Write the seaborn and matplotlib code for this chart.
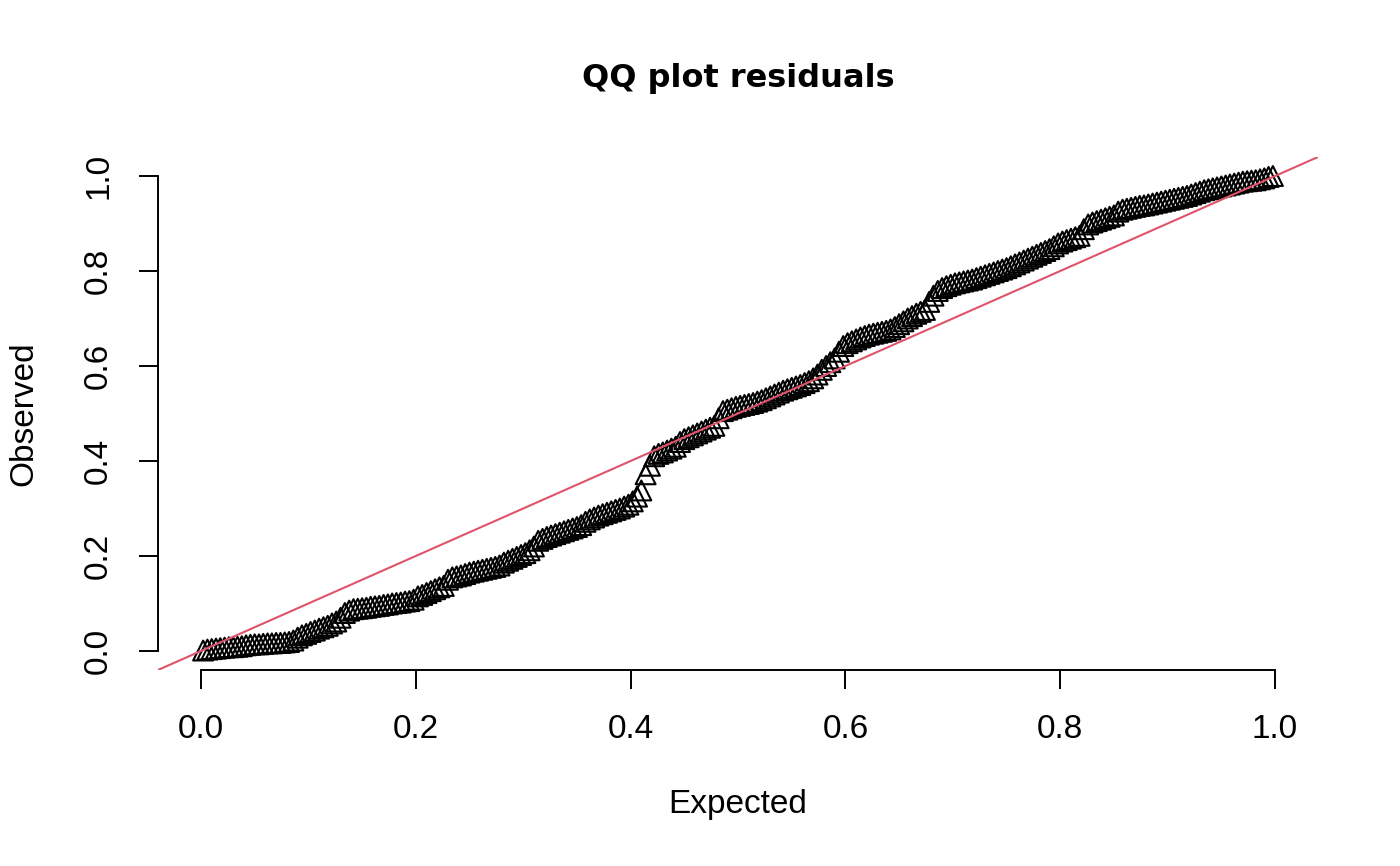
import numpy as np
import pandas as pd
import matplotlib
matplotlib.use('Agg')
import matplotlib.pyplot as plt
import seaborn as sns

# Observed quantiles of the scaled residuals (sorted)
observed = [
    0.001, 0.003, 0.004, 0.005, 0.006, 0.007, 0.008, 0.008, 0.009, 0.010,
    0.012, 0.013, 0.014, 0.014, 0.015, 0.016, 0.016, 0.017, 0.017, 0.018,
    0.019, 0.022, 0.028, 0.033, 0.036, 0.040, 0.043, 0.047, 0.050, 0.053,
    0.058, 0.062, 0.070, 0.080, 0.085, 0.088, 0.089, 0.090, 0.091, 0.093,
    0.094, 0.095, 0.097, 0.098, 0.100, 0.101, 0.102, 0.104, 0.105, 0.108,
    0.115, 0.118, 0.122, 0.126, 0.130, 0.134, 0.137, 0.150, 0.155, 0.157,
    0.159, 0.162, 0.165, 0.167, 0.169, 0.171, 0.173, 0.175, 0.177, 0.180,
    0.186, 0.190, 0.194, 0.198, 0.202, 0.206, 0.212, 0.220, 0.232, 0.236,
    0.240, 0.243, 0.246, 0.249, 0.252, 0.255, 0.258, 0.261, 0.265, 0.272,
    0.277, 0.281, 0.285, 0.288, 0.291, 0.294, 0.297, 0.300, 0.304, 0.308,
    0.315, 0.325, 0.338, 0.372, 0.390, 0.410, 0.415, 0.418, 0.422, 0.426,
    0.430, 0.440, 0.446, 0.450, 0.454, 0.458, 0.462, 0.466, 0.470, 0.474,
    0.490, 0.505, 0.508, 0.511, 0.514, 0.516, 0.518, 0.520, 0.522, 0.525,
    0.528, 0.532, 0.536, 0.540, 0.544, 0.548, 0.551, 0.554, 0.557, 0.560,
    0.564, 0.568, 0.574, 0.582, 0.592, 0.600, 0.608, 0.616, 0.630, 0.642,
    0.648, 0.652, 0.656, 0.660, 0.663, 0.666, 0.668, 0.670, 0.672, 0.674,
    0.677, 0.682, 0.688, 0.694, 0.700, 0.705, 0.710, 0.714, 0.718, 0.735,
    0.748, 0.758, 0.764, 0.768, 0.771, 0.774, 0.776, 0.778, 0.780, 0.782,
    0.785, 0.788, 0.791, 0.794, 0.797, 0.800, 0.803, 0.806, 0.810, 0.814,
    0.818, 0.822, 0.826, 0.830, 0.834, 0.838, 0.842, 0.846, 0.852, 0.858,
    0.862, 0.865, 0.868, 0.871, 0.874, 0.888, 0.898, 0.902, 0.905, 0.908,
    0.911, 0.914, 0.917, 0.925, 0.929, 0.931, 0.933, 0.935, 0.937, 0.938,
    0.940, 0.942, 0.944, 0.946, 0.948, 0.950, 0.952, 0.954, 0.956, 0.958,
    0.961, 0.964, 0.967, 0.970, 0.972, 0.974, 0.976, 0.978, 0.980, 0.982,
    0.984, 0.986, 0.988, 0.989, 0.990, 0.991, 0.993, 0.995, 0.998, 1.000,
]
n_obs = len(observed)
# uniform plotting positions (ppoints) for the expected quantiles
expected = (np.arange(1, n_obs + 1) - 0.5) / n_obs

tick_values = [0.0, 0.2, 0.4, 0.6, 0.8, 1.0]
tick_labels = ['0.0', '0.2', '0.4', '0.6', '0.8', '1.0']

df = pd.DataFrame({'Expected': expected, 'Observed': observed})

sns.set_style('ticks')
plt.rcParams['font.family'] = ['Liberation Sans', 'DejaVu Sans']
plt.rcParams['text.color'] = 'black'
plt.rcParams['axes.labelcolor'] = 'black'

fig = plt.figure(figsize=(14, 8.66), dpi=100)
ax = fig.add_axes([158 / 1400, 1 - 670 / 866, 1160 / 1400, 513 / 866])

sns.scatterplot(data=df, x='Expected', y='Observed', ax=ax, marker='^', s=205,
                facecolor='none', edgecolor='black', linewidth=1.5, zorder=2)
ax.axline((0, 0), slope=1, color='#DF536B', linewidth=1.5, zorder=3)

ax.set_xlim(-0.04, 1.04)
ax.set_ylim(-0.04, 1.04)
ax.set_xticks(tick_values)
ax.set_xticklabels(tick_labels)
ax.set_yticks(tick_values)
ax.set_yticklabels(tick_labels, rotation=90, va='center')
ax.tick_params(axis='both', length=13.5, width=1.4, pad=18, labelsize=24,
               colors='black')

# R-style axes: only the range of the ticks is drawn
for side in ['top', 'right']:
    ax.spines[side].set_visible(False)
for side in ['left', 'bottom']:
    ax.spines[side].set_bounds(0, 1)
    ax.spines[side].set_linewidth(1.4)
    ax.spines[side].set_color('black')

ax.set_xlabel('')
ax.set_ylabel('')
fig.text(738 / 1400, 1 - 804 / 866, 'Expected', ha='center', va='center',
         fontsize=24, color='black')
fig.text(24 / 1400, 1 - 414 / 866, 'Observed', ha='center', va='center',
         rotation=90, fontsize=24, color='black')
fig.text(738 / 1400, 1 - 78 / 866, 'QQ plot residuals', ha='center',
         va='center', fontsize=23, fontweight='bold', family='DejaVu Sans',
         color='black')

fig.savefig('out.png', dpi=100, facecolor='white')
